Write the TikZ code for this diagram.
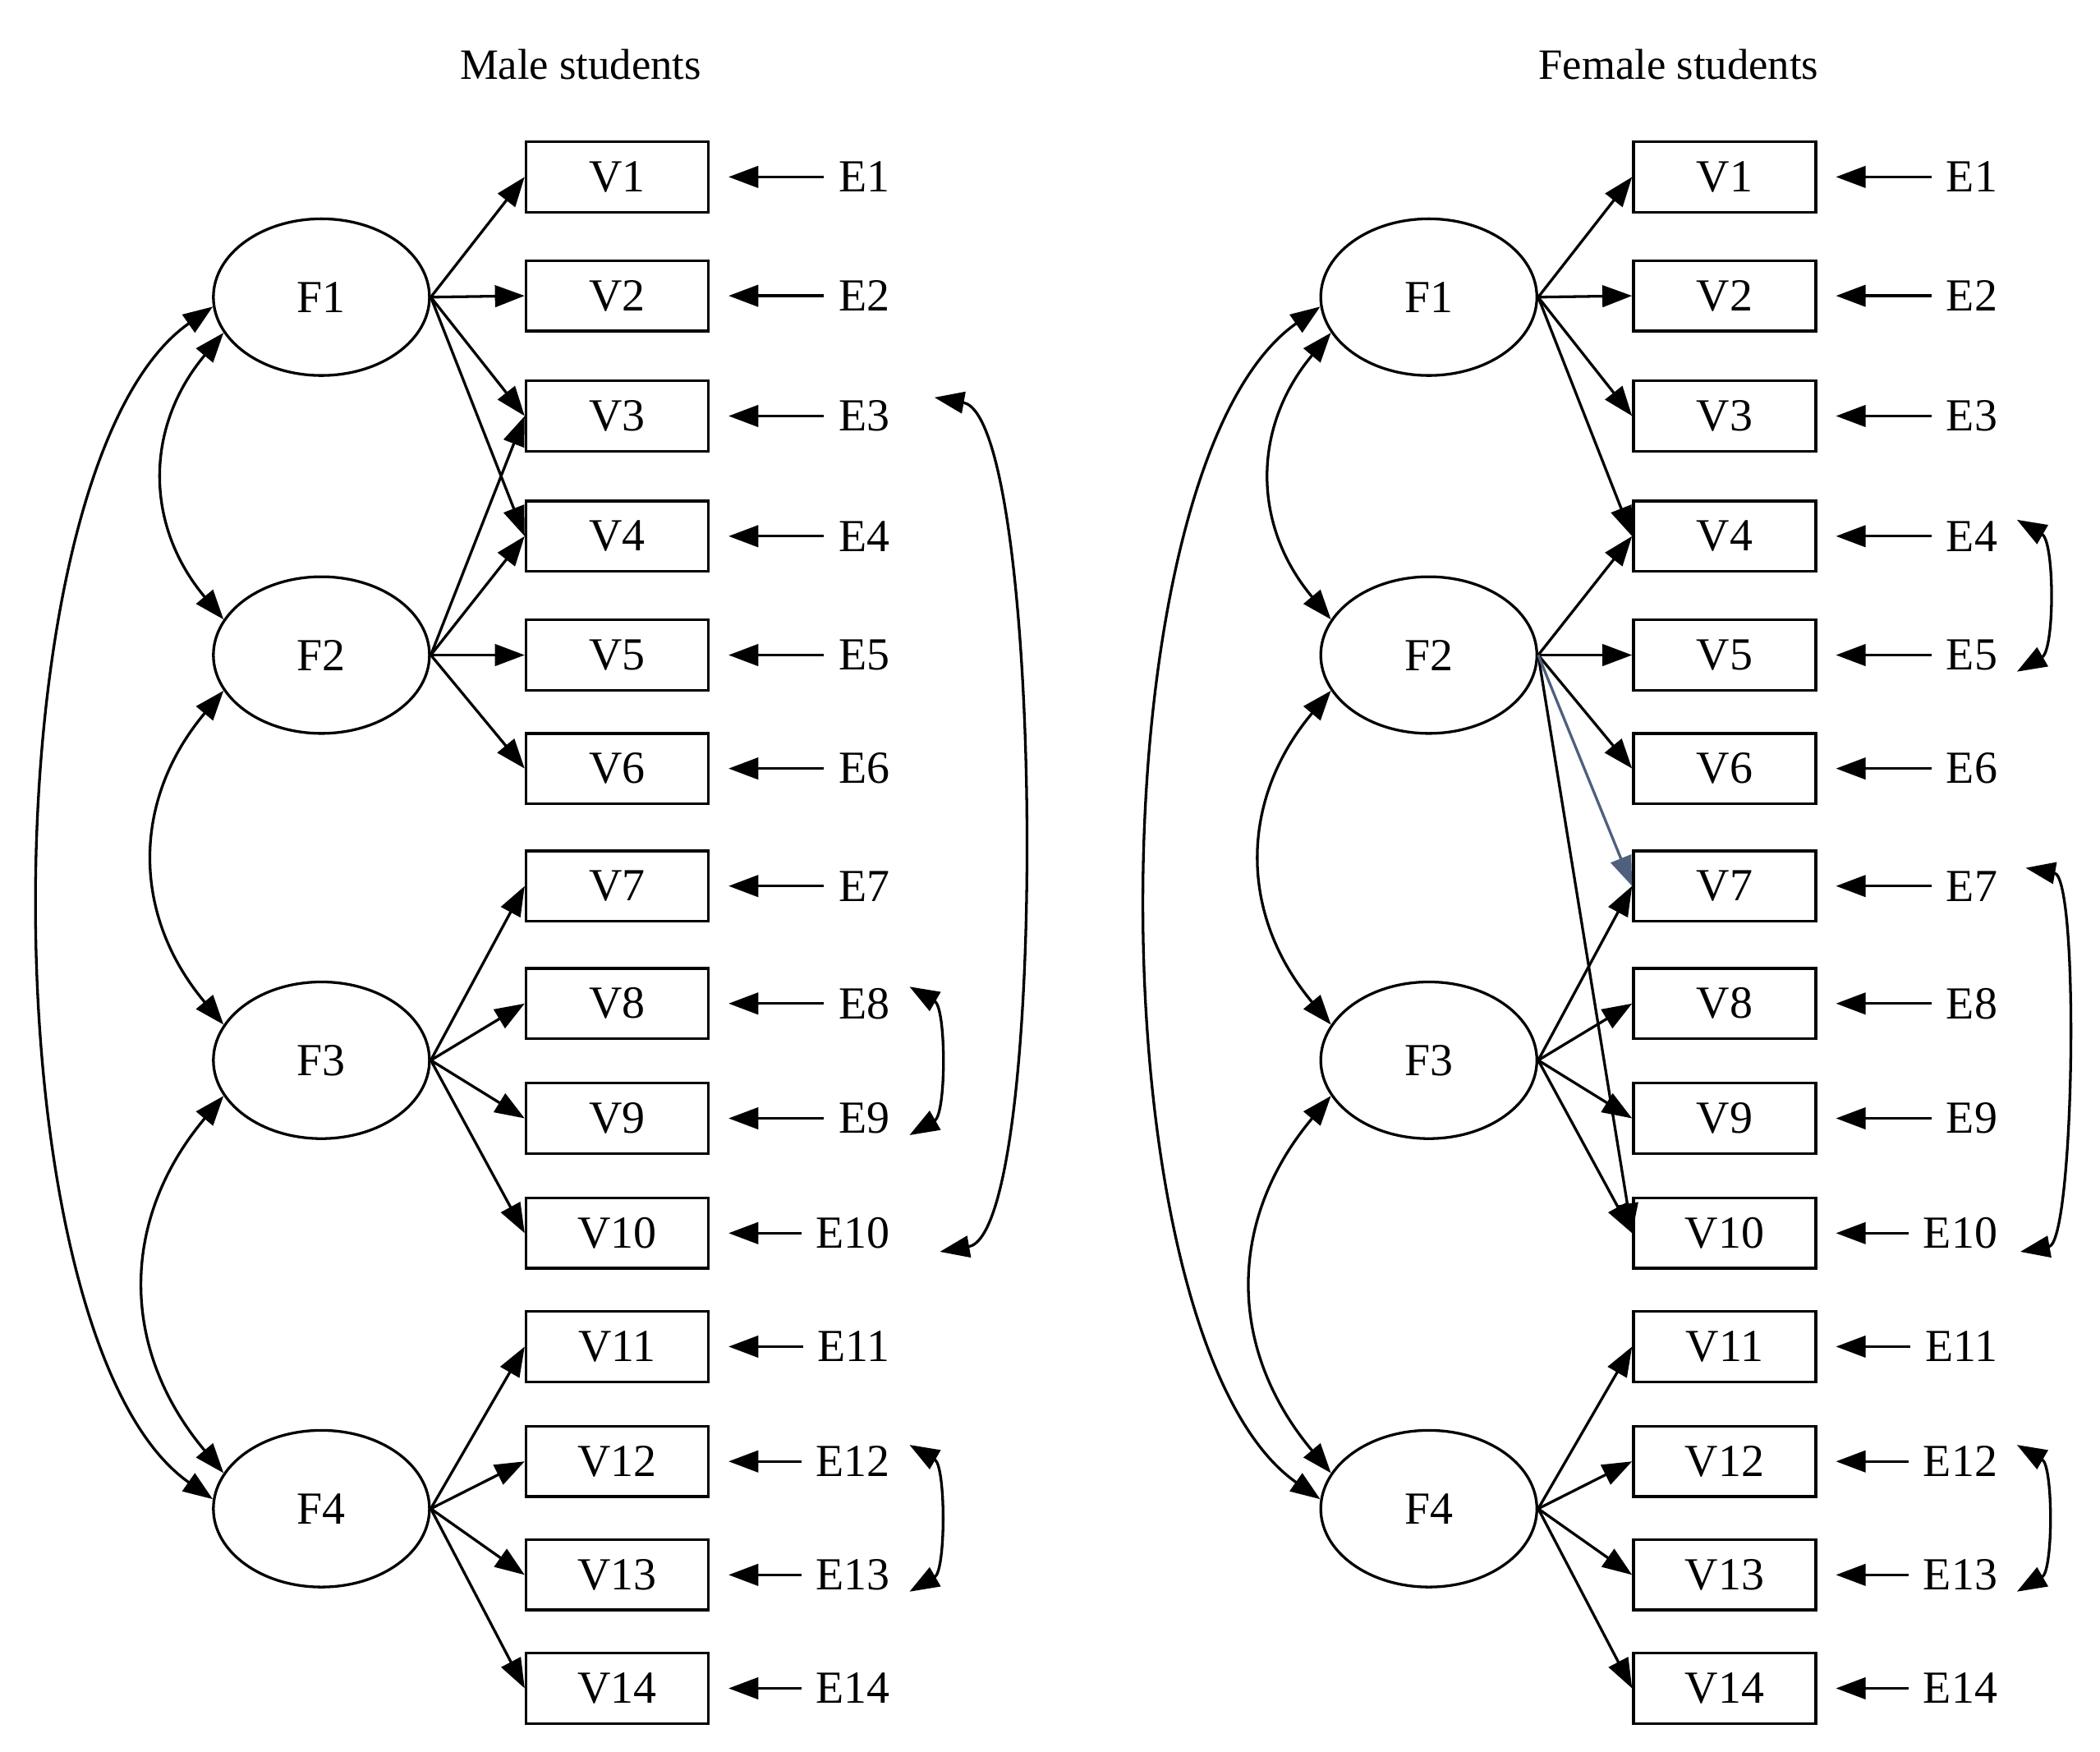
\documentclass[tikz,border=0pt]{standalone}
\usepackage{fontspec}
\setmainfont{Liberation Serif}
\usetikzlibrary{arrows.meta,shapes.geometric}
\begin{document}
\begin{tikzpicture}[x=1pt,y=-1pt,line width=2pt,
  ar/.style={-{Triangle[length=22pt,width=16pt]}},
  dar/.style={{Triangle[length=22pt,width=16pt]}-{Triangle[length=22pt,width=16pt]}},
  lat/.style={draw,ellipse,minimum width=160pt,minimum height=116pt,font=\fontsize{34}{36}\selectfont},
  obs/.style={draw,rectangle,minimum width=135pt,minimum height=52pt,inner sep=0pt,font=\fontsize{34}{36}\selectfont},
  err/.style={inner sep=2pt,font=\fontsize{34}{36}\selectfont},
  ttl/.style={font=\fontsize{32}{34}\selectfont}]
\useasboundingbox (0,0) rectangle (1555,1297);
\node[ttl] (tL) at (430,48) {Male students};
\node[ttl] (tR) at (1243,48) {Female students};
\foreach \p/\dx in {L/0,R/820}{
  \foreach \f/\y in {1/220,2/485,3/785,4/1117}
    \node[lat] (\p F\f) at (238+\dx,\y) {F\f};
  \foreach \v/\y in {1/131,2/219,3/308,4/397,5/485,6/569,7/656,8/743,9/828,10/913,11/997,12/1082,13/1166,14/1250}{
    \node[obs] (\p V\v) at (457+\dx,\y) {V\v};
    \node[err,anchor=east] (\p E\v) at (662+\dx,\y) {E\v};
    \draw[ar,shorten <=8pt,shorten >=14pt] (\p E\v.west) -- (\p V\v.east);
  }
  \draw[dar] (\p F1.200) to[out=230,in=130,looseness=1.1] (\p F2.160);
  \draw[dar] (\p F2.200) to[out=230,in=130,looseness=1.1] (\p F3.160);
  \draw[dar] (\p F3.200) to[out=230,in=130,looseness=1.1] (\p F4.160);
  \draw[dar] (\p F1.185) to[out=215,in=145,looseness=0.6] (\p F4.175);
  \foreach \a/\b in {1/1,1/2,1/3,1/4,3/7,3/8,3/9,3/10,4/11,4/12,4/13,4/14}
    \draw[ar] (\p F\a.east) -- (\p V\b.west);
  \draw[dar,shorten <=4pt,shorten >=4pt] ([xshift=8pt]\p E12.north east) to[out=-30,in=30,looseness=0.8] ([xshift=8pt]\p E13.south east);
}
\foreach \b in {3,4,5,6} \draw[ar] (LF2.east) -- (LV\b.west);
\foreach \b in {4,5,6,10} \draw[ar] (RF2.east) -- (RV\b.west);
\draw[ar,draw={rgb,255:red,80;green,95;blue,125},fill={rgb,255:red,80;green,95;blue,125}] (RF2.east) -- (RV7.west);
\draw[dar,shorten <=4pt,shorten >=4pt] ([xshift=26pt]LE3.north east) to[out=-10,in=10,looseness=0.35] ([xshift=30pt]LE10.south east);
\draw[dar,shorten <=4pt,shorten >=4pt] ([xshift=8pt]LE8.north east) to[out=-30,in=30,looseness=0.8] ([xshift=8pt]LE9.south east);
\draw[dar,shorten <=4pt,shorten >=4pt] ([xshift=8pt]RE4.north east) to[out=-30,in=30,looseness=0.8] ([xshift=8pt]RE5.south east);
\draw[dar,shorten <=4pt,shorten >=4pt] ([xshift=14pt]RE7.north east) to[out=-10,in=10,looseness=0.4] ([xshift=10pt]RE10.south east);
\end{tikzpicture}
\end{document}
